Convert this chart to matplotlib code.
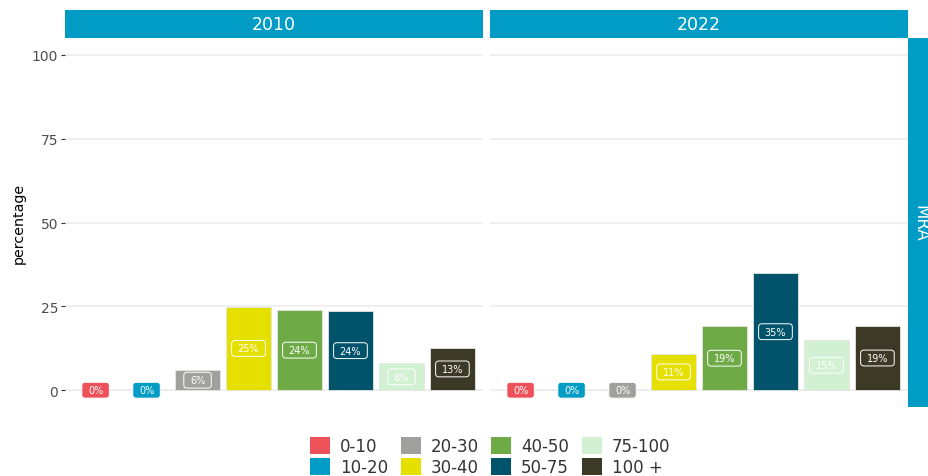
import matplotlib
matplotlib.use("Agg")
import matplotlib.pyplot as plt
from matplotlib.patches import Patch, BoxStyle

plt.rcParams['font.family'] = ['DejaVu Sans']

categories = ['0-10', '10-20', '20-30', '30-40', '40-50', '50-75', '75-100', '100 +']
colors = ['#EF515A', '#009CC6', '#A0A09E', '#E6E000', '#6EAA45', '#00536A', '#D2F0D2', '#3C3A26']
years = ['2010', '2022']
pct_2010 = [0.0, 0.0, 6.0, 24.9, 23.9, 23.6, 8.0, 12.7]
pct_2022 = [0.0, 0.0, 0.0, 10.9, 19.1, 34.9, 14.9, 19.2]
facet_row = 'MRA'
yticks = [0, 25, 50, 75, 100]

W, H = 929, 477
fig = plt.figure(figsize=(W / 100, H / 100), dpi=100)
strip_col = '#009CC6'


class WideRound:
    def __init__(self):
        self.base = BoxStyle.Round(pad=0.3, rounding_size=0.35)

    def __call__(self, x0, y0, width, height, mutation_size):
        ex = 0.33 * mutation_size
        return self.base(x0 - ex, y0, width + 2 * ex, height, mutation_size)


def fx(px):
    return px / W


def fy(py):
    return 1 - py / H


panel_top, panel_bot = 39, 408
panels = [(65, 483), (490, 908)]
data = [pct_2010, pct_2022]

for i, ((x0, x1), vals, yr) in enumerate(zip(panels, data, years)):
    ax = fig.add_axes([fx(x0), fy(panel_bot), fx(x1 - x0), (panel_bot - panel_top) / H])
    ax.set_xlim(0.4, len(categories) + 0.6)
    ax.set_ylim(-5, 105)
    for s in ax.spines.values():
        s.set_visible(False)
    ax.set_yticks(yticks)
    ax.grid(axis='y', color='#EBEBEB', lw=1.1, zorder=0)
    ax.set_axisbelow(True)
    ax.set_xticks([])
    xs = list(range(1, len(categories) + 1))
    ax.bar(xs, vals, width=0.88, color=colors, edgecolor='#E6E6E6', linewidth=0.6, zorder=2)
    for x, v, c in zip(xs, vals, colors):
        ax.text(x, v / 2, f"{round(v):.0f}%", ha='center', va='center', fontsize=7, color='white',
                zorder=4,
                bbox=dict(boxstyle=WideRound(), fc=c, ec='white', lw=0.7))
    if i == 0:
        ax.tick_params(axis='y', length=3, width=0.8, color='#333333', labelcolor='#4D4D4D',
                       labelsize=10, pad=2)
        ax.set_ylabel('percentage', fontsize=10.3, color='black', labelpad=4)
    else:
        ax.tick_params(axis='y', length=0, labelleft=False)
    # top strip
    sax = fig.add_axes([fx(x0), fy(39), fx(x1 - x0), 28 / H])
    sax.set_facecolor(strip_col)
    sax.set_xticks([]); sax.set_yticks([])
    for s in sax.spines.values():
        s.set_visible(False)
    sax.text(0.5, 0.5, yr, ha='center', va='center', color='white', fontsize=12.5,
             transform=sax.transAxes)

# right strip
rax = fig.add_axes([fx(908), fy(panel_bot), fx(28), (panel_bot - panel_top) / H])
rax.set_facecolor(strip_col)
rax.set_xticks([]); rax.set_yticks([])
for s in rax.spines.values():
    s.set_visible(False)
rax.text(0.45, 0.5, facet_row, ha='center', va='center', color='white', fontsize=12,
         rotation=-90, transform=rax.transAxes)

handles = [Patch(facecolor=c, edgecolor='none', label=l) for c, l in zip(colors, categories)]
fig.legend(handles=handles, ncol=4, loc='upper center', bbox_to_anchor=(fx(490), fy(430)),
           frameon=False, fontsize=12, handlelength=1.2, handleheight=1.15,
           handletextpad=0.6, columnspacing=0.75, labelspacing=0.16, borderpad=0,
           labelcolor='#333333')

fig.savefig('out.png', dpi=100)
